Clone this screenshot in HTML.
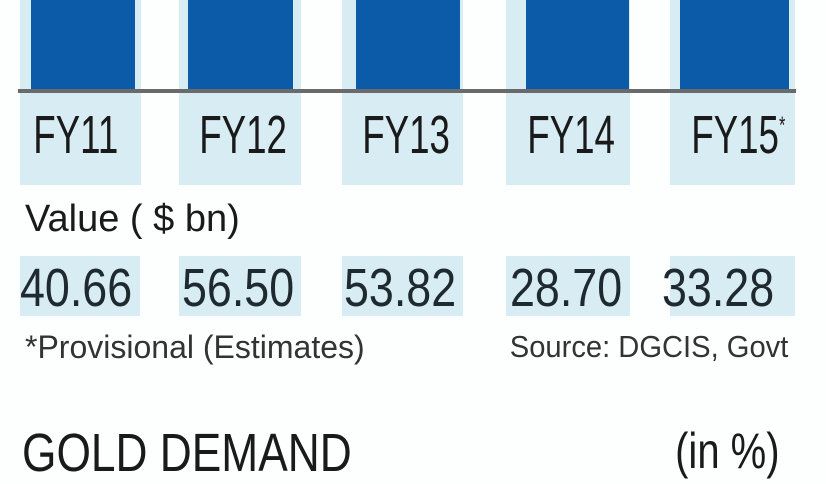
<!DOCTYPE html>
<html><head><style>
html,body{margin:0;padding:0;width:826px;height:465px;overflow:hidden;background:#fdfefe;font-family:"Liberation Sans",sans-serif;color:#1a1a1a}
.a{position:absolute}
.lc{position:absolute;top:0;height:185px;background:#d8ecf4}
.bar{position:absolute;top:0;height:90px;background:#0b5ba9}
.lab{position:absolute;top:104px;font-size:54px;transform:scaleX(.68);transform-origin:center;width:120px;text-align:center}
.vb{position:absolute;top:256px;height:60px;background:#d8ecf4}
.val{position:absolute;top:257px;font-size:54px;transform:scaleX(.83);transform-origin:left top;white-space:nowrap;color:#1f2a30}
</style></head><body>
<div class="lc" style="left:20px;width:121px"></div>
<div class="lc" style="left:179px;width:122px"></div>
<div class="lc" style="left:342px;width:121px"></div>
<div class="lc" style="left:506px;width:124px"></div>
<div class="lc" style="left:670px;width:125px"></div>
<div class="bar" style="left:31px;width:104px"></div>
<div class="bar" style="left:188px;width:105px"></div>
<div class="bar" style="left:356px;width:104px"></div>
<div class="bar" style="left:526px;width:103px"></div>
<div class="bar" style="left:680px;width:109px"></div>
<div class="a" style="left:18px;top:89px;width:778px;height:4px;background:#6a6a6a"></div>
<div class="lab" style="left:14px">FY11</div>
<div class="lab" style="left:180px">FY12</div>
<div class="lab" style="left:343px">FY13</div>
<div class="lab" style="left:508px">FY14</div>
<div class="lab" style="left:672px">FY15<span style="font-size:24px;vertical-align:top;position:relative;top:8px">*</span></div>
<div class="a" style="left:25px;top:198px;font-size:38px;white-space:nowrap">Value ( $ bn)</div>
<div class="vb" style="left:20px;width:120px"></div>
<div class="vb" style="left:179px;width:122px"></div>
<div class="vb" style="left:342px;width:121px"></div>
<div class="vb" style="left:506px;width:124px"></div>
<div class="vb" style="left:670px;width:125px"></div>
<div class="val" style="left:20px">40.66</div>
<div class="val" style="left:182px">56.50</div>
<div class="val" style="left:344px">53.82</div>
<div class="val" style="left:510px">28.70</div>
<div class="val" style="left:662px">33.28</div>
<div class="a" style="left:25px;top:329px;font-size:32px;white-space:nowrap;color:#333">*Provisional (Estimates)</div>
<div class="a" style="right:38px;top:329px;font-size:31px;transform:scaleX(.94);transform-origin:right top;white-space:nowrap;color:#333">Source: DGCIS, Govt</div>
<div class="a" style="left:22px;top:422px;font-size:54px;transform:scaleX(.82);transform-origin:left top;white-space:nowrap">GOLD DEMAND</div>
<div class="a" style="right:46px;top:422px;font-size:50px;transform:scaleX(.8);transform-origin:right top;white-space:nowrap">(in %)</div>
</body></html>
